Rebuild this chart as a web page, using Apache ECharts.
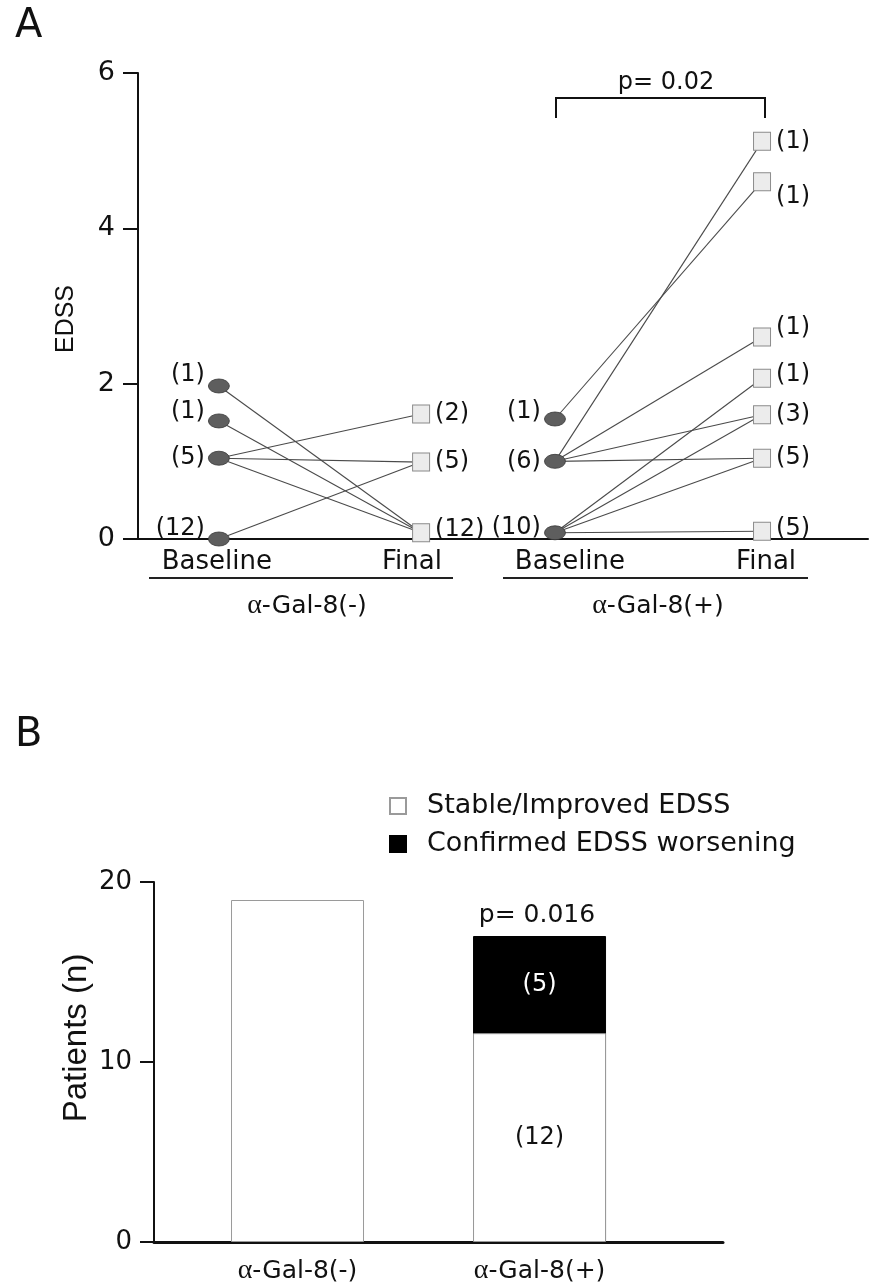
<!DOCTYPE html>
<html><head><meta charset="utf-8">
<script src="https://cdn.jsdelivr.net/npm/echarts@6/dist/echarts.min.js"></script>
<style>html,body{margin:0;padding:0;background:#fff}#c{width:871px;height:1285px}</style>
</head><body><div id="c"></div>
<script>
// ================= DATA =================
const timepoints = ['Baseline', 'Final', 'Baseline', 'Final'];
const groups = ['α-Gal-8(-)', 'α-Gal-8(+)'];
const yTicksA = [0, 2, 4, 6];
// Panel A, α-Gal-8(-)
const negBaselineEDSS = [1.97, 1.52, 1.04, 0];
const negBaselineN = [1, 1, 5, 12];
const negFinalEDSS = [1.61, 0.99, 0.08];
const negFinalN = [2, 5, 12];
const negLinks = [[0, 2], [1, 2], [2, 0], [2, 1], [2, 2], [3, 1]]; // [baseline idx, final idx]
// Panel A, α-Gal-8(+)
const posBaselineEDSS = [1.545, 1.0, 0.08];
const posBaselineN = [1, 6, 10];
const posFinalEDSS = [5.12, 4.6, 2.6, 2.07, 1.6, 1.04, 0.1];
const posFinalN = [1, 1, 1, 1, 3, 5, 5];
const posLinks = [[0, 1], [1, 0], [1, 2], [1, 4], [1, 5], [2, 3], [2, 4], [2, 5], [2, 6]];
const pValueA = 'p= 0.02';
// Panel B
const outcomes = ['Stable/Improved EDSS', 'Confirmed EDSS worsening'];
const stablePatients = [19, 11.6];
const worsenedPatients = [null, 5.4];
const stableLabels = ['', '(12)'];
const worsenedLabels = ['', '(5)'];
const yTicksB = [0, 10, 20];
const pValueB = 'p= 0.016';

// ================= LAYOUT / STYLE =================
const SANS = 'DejaVu Sans';
const ARIAL = 'Liberation Sans';
const TXT = '#111111';
const X_A = [1, 2, 2.662, 3.686];            // column positions on panel A x scale
const X_A_LABEL = [0.99, 1.955, 2.736, 3.706];
const X_B = [1, 2];
const NEG_BASE_DY = [-11, -9, 0, -10];
const NEG_FINAL_DY = [0, 0, -3];
const POS_BASE_DY = [-7, 0, -5];
const POS_FINAL_DY = [0, 15, -9, -3, 0, 0, -2];

const labelFont = {fontFamily: SANS, fontSize: 24, color: TXT, opacity: 1};

function linkSeries(bVals, fVals, links, xb, xf) {
  return links.map(([b, f]) => ({
    type: 'line', xAxisIndex: 0, yAxisIndex: 0, silent: true, z: 2,
    symbol: 'none', animation: false,
    lineStyle: {color: '#4a4a4a', width: 1.1, opacity: 1},
    data: [[xb, bVals[b]], [xf, fVals[f]]]
  }));
}
function pointSeries(vals, ns, x, dys, kind) {
  const circle = kind === 'circle';
  return {
    type: 'scatter', xAxisIndex: 0, yAxisIndex: 0, z: 5, animation: false,
    symbol: circle ? 'circle' : 'rect',
    symbolSize: circle ? [21, 14] : [17, 18],
    itemStyle: circle ? {color: '#5e5e5e', borderColor: '#383838', borderWidth: 0.8, opacity: 1}
                      : {color: '#ececec', borderColor: '#8a8a8a', borderWidth: 1, opacity: 1},
    label: Object.assign({show: true, position: circle ? 'left' : 'right', distance: circle ? 3 : 5,
      formatter: p => '(' + ns[p.dataIndex] + ')'}, labelFont),
    data: vals.map((v, i) => ({value: [x, v], label: {offset: [0, dys[i]]}}))
  };
}

// stacked totals for panel B (worsening sits on top of the stable part)
const totalPatients = stablePatients.map((s, i) => worsenedPatients[i] == null ? null : s + worsenedPatients[i]);

const series = []
  .concat(linkSeries(negBaselineEDSS, negFinalEDSS, negLinks, X_A[0], X_A[1]))
  .concat(linkSeries(posBaselineEDSS, posFinalEDSS, posLinks, X_A[2], X_A[3]))
  .concat([
    pointSeries(negBaselineEDSS, negBaselineN, X_A[0], NEG_BASE_DY, 'circle'),
    pointSeries(negFinalEDSS, negFinalN, X_A[1], NEG_FINAL_DY, 'square'),
    pointSeries(posBaselineEDSS, posBaselineN, X_A[2], POS_BASE_DY, 'circle'),
    pointSeries(posFinalEDSS, posFinalN, X_A[3], POS_FINAL_DY, 'square'),
    {
      type: 'bar', name: outcomes[1], xAxisIndex: 1, yAxisIndex: 1,
      barWidth: 133, barGap: '-100%', animation: false,
      itemStyle: {color: '#000000', borderColor: '#000000', borderWidth: 1},
      data: totalPatients.map((t, i) => ({
        value: [X_B[i], t == null ? '-' : t],
        label: {
          show: t != null, color: '#ffffff', fontFamily: SANS, fontSize: 24,
          position: ['50%', (t == null ? 0 : (worsenedPatients[i] / 2) / t * 100) + '%'],
          align: 'center', verticalAlign: 'middle',
          formatter: () => worsenedLabels[i]
        }
      }))
    },
    {
      type: 'bar', name: outcomes[0], xAxisIndex: 1, yAxisIndex: 1,
      barWidth: 133, barGap: '-100%', animation: false,
      itemStyle: {color: '#ffffff', borderColor: '#9a9a9a', borderWidth: 1},
      label: {show: true, position: 'inside', fontFamily: SANS, fontSize: 24, color: TXT,
        formatter: p => stableLabels[p.dataIndex]},
      data: stablePatients.map((v, i) => [X_B[i], v])
    }
  ]);

const alphaRich = {a: {fontFamily: 'Liberation Serif', fontSize: 28, color: TXT}};
const gname = s => s.replace('α', '{a|α}');

const option = {
  backgroundColor: '#ffffff',
  animation: false,
  grid: [
    {left: 138, top: 73, width: 730, height: 466},
    {left: 154, top: 882, width: 569, height: 361}
  ],
  xAxis: [
    {
      gridIndex: 0, type: 'value', min: 0.6, max: 4.21,
      axisLine: {show: true, onZero: false, lineStyle: {color: '#111', width: 2}},
      axisTick: {show: false}, splitLine: {show: false},
      axisLabel: {
        customValues: X_A_LABEL, margin: 10, fontFamily: SANS, fontSize: 26, color: TXT,
        formatter: v => {
          const i = X_A_LABEL.findIndex(p => Math.abs(p - v) < 1e-6);
          return i >= 0 ? timepoints[i] : '';
        }
      }
    },
    {
      gridIndex: 1, type: 'value', min: 0.407, max: 2.758,
      axisLine: {show: true, onZero: false, lineStyle: {color: '#111', width: 3}},
      axisTick: {show: false}, splitLine: {show: false},
      axisLabel: {
        customValues: X_B, margin: 15, fontFamily: SANS, fontSize: 25, color: TXT, rich: alphaRich,
        formatter: v => {
          const i = X_B.findIndex(p => Math.abs(p - v) < 1e-6);
          return i >= 0 ? gname(groups[i]) : '';
        }
      }
    }
  ],
  yAxis: [
    {
      gridIndex: 0, type: 'value', min: yTicksA[0], max: yTicksA[yTicksA.length - 1], interval: 2,
      axisLine: {show: true, onZero: false, lineStyle: {color: '#111', width: 2}},
      axisTick: {show: true, length: 15, lineStyle: {color: '#111', width: 2}},
      splitLine: {show: false},
      axisLabel: {margin: 23, fontFamily: SANS, fontSize: 27, color: TXT}
    },
    {
      gridIndex: 1, type: 'value', min: yTicksB[0], max: yTicksB[yTicksB.length - 1], interval: 10,
      axisLine: {show: true, onZero: false, lineStyle: {color: '#111', width: 2}},
      axisTick: {show: true, length: 14, lineStyle: {color: '#111', width: 2}},
      splitLine: {show: false},
      axisLabel: {margin: 22, fontFamily: SANS, fontSize: 26, color: TXT}
    }
  ],
  legend: {
    data: outcomes, orient: 'vertical', left: 384, top: 786,
    icon: 'rect', itemWidth: 16, itemHeight: 16, itemGap: 8,
    textStyle: {fontFamily: SANS, fontSize: 27, color: TXT, lineHeight: 30, padding: [0, 0, 0, 16]}
  },
  series: series,
  graphic: [
    {type: 'text', x: 15, y: 27, style: {text: 'A', fontFamily: SANS, fontSize: 40, fill: TXT, align: 'left', verticalAlign: 'middle', textAlign: 'left', textVerticalAlign: 'middle'}},
    {type: 'text', x: 15, y: 736, style: {text: 'B', fontFamily: SANS, fontSize: 40, fill: TXT, align: 'left', verticalAlign: 'middle', textAlign: 'left', textVerticalAlign: 'middle'}},
    {type: 'text', x: 66, y: 319, rotation: Math.PI / 2, style: {text: 'EDSS', fontFamily: ARIAL, fontSize: 25, fill: TXT, align: 'center', verticalAlign: 'middle', textAlign: 'center', textVerticalAlign: 'middle'}},
    {type: 'text', x: 77, y: 1038, rotation: Math.PI / 2, style: {text: 'Patients (n)', fontFamily: ARIAL, fontSize: 33, fill: TXT, align: 'center', verticalAlign: 'middle', textAlign: 'center', textVerticalAlign: 'middle'}},
    {type: 'line', shape: {x1: 149, y1: 578, x2: 453, y2: 578}, style: {stroke: '#222', lineWidth: 2}},
    {type: 'line', shape: {x1: 503, y1: 578, x2: 808, y2: 578}, style: {stroke: '#222', lineWidth: 2}},
    {type: 'text', x: 307, y: 606, style: {text: gname(groups[0]), rich: alphaRich, fontFamily: SANS, fontSize: 25, fill: TXT, align: 'center', verticalAlign: 'middle', textAlign: 'center', textVerticalAlign: 'middle'}},
    {type: 'text', x: 658, y: 606, style: {text: gname(groups[1]), rich: alphaRich, fontFamily: SANS, fontSize: 25, fill: TXT, align: 'center', verticalAlign: 'middle', textAlign: 'center', textVerticalAlign: 'middle'}},
    {type: 'polyline', shape: {points: [[556, 118], [556, 98], [765, 98], [765, 118]]}, style: {stroke: '#111', lineWidth: 2, fill: null}},
    {type: 'text', x: 666, y: 83, style: {text: pValueA, fontFamily: SANS, fontSize: 24, fill: TXT, align: 'center', verticalAlign: 'middle', textAlign: 'center', textVerticalAlign: 'middle'}},
    {type: 'text', x: 537, y: 915, style: {text: pValueB, fontFamily: SANS, fontSize: 25, fill: TXT, align: 'center', verticalAlign: 'middle', textAlign: 'center', textVerticalAlign: 'middle'}}
  ]
};

const chart = echarts.init(document.getElementById('c'), null, {renderer: 'canvas', width: 871, height: 1285});
chart.setOption(option);
</script>
</body></html>
